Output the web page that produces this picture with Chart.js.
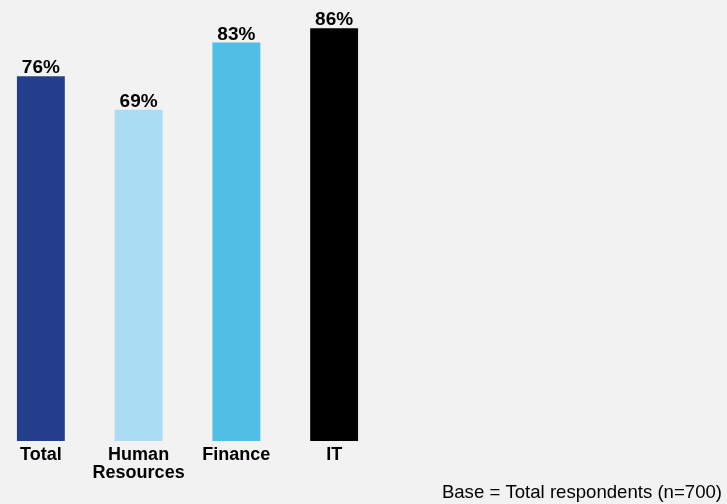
<!DOCTYPE html>
<html>
<head>
<meta charset="utf-8">
<script src="https://cdn.jsdelivr.net/npm/chart.js@4"></script>
<style>
  html, body { margin: 0; padding: 0; background: #f2f2f2; overflow: hidden; }
  #wrap { position: relative; width: 727px; height: 504px; overflow: hidden; }
  #c { position: absolute; left: -8px; top: 0; }
</style>
</head>
<body>
<div id="wrap"><canvas id="c" width="735" height="504"></canvas></div>
<script>
const categories = ["Total", ["Human", "Resources"], "Finance", "IT"];
const values = [76, 69, 83, 86];
const barColors = ["#243f8c", "#aadcf2", "#50bfe6", "#000000"];
const footnote = "Base = Total respondents (n=700)";

const valueLabels = {
  id: 'valueLabels',
  afterDatasetsDraw(chart) {
    const ctx = chart.ctx;
    const meta = chart.getDatasetMeta(0);
    ctx.save();
    ctx.font = 'bold 19px "Liberation Sans", Arial, sans-serif';
    ctx.fillStyle = '#000';
    ctx.textAlign = 'center';
    ctx.textBaseline = 'alphabetic';
    meta.data.forEach((el, i) => {
      ctx.fillText(values[i] + '%', el.x, el.y - 3);
    });
    ctx.restore();
  }
};

const footPlugin = {
  id: 'footPlugin',
  afterDraw(chart) {
    const ctx = chart.ctx;
    ctx.save();
    ctx.font = '18.6px "Liberation Sans", Arial, sans-serif';
    ctx.fillStyle = '#000';
    ctx.textAlign = 'right';
    ctx.textBaseline = 'alphabetic';
    ctx.fillText(footnote, 730, 498);
    ctx.restore();
  }
};

new Chart(document.getElementById('c'), {
  type: 'bar',
  data: {
    labels: categories,
    datasets: [{
      data: values,
      backgroundColor: barColors,
      borderWidth: 0,
      barPercentage: 0.98,
      categoryPercentage: 0.5
    }]
  },
  options: {
    responsive: false,
    animation: false,
    devicePixelRatio: 1,
    layout: { padding: { left: 0, right: 344, top: 9, bottom: 0 } },
    plugins: { legend: { display: false }, tooltip: { enabled: false } },
    scales: {
      x: {
        grid: { display: false, drawTicks: false },
        border: { display: false },
        ticks: {
          color: '#000',
          padding: 5,
          maxRotation: 0,
          autoSkip: false,
          font: { family: '"Liberation Sans", Arial, sans-serif', size: 18, weight: 'bold', lineHeight: 1.0 }
        },
        afterFit(scale) { scale.height = 63; }
      },
      y: {
        display: false,
        min: 0,
        max: 90
      }
    }
  },
  plugins: [valueLabels, footPlugin]
});
</script>
</body>
</html>
